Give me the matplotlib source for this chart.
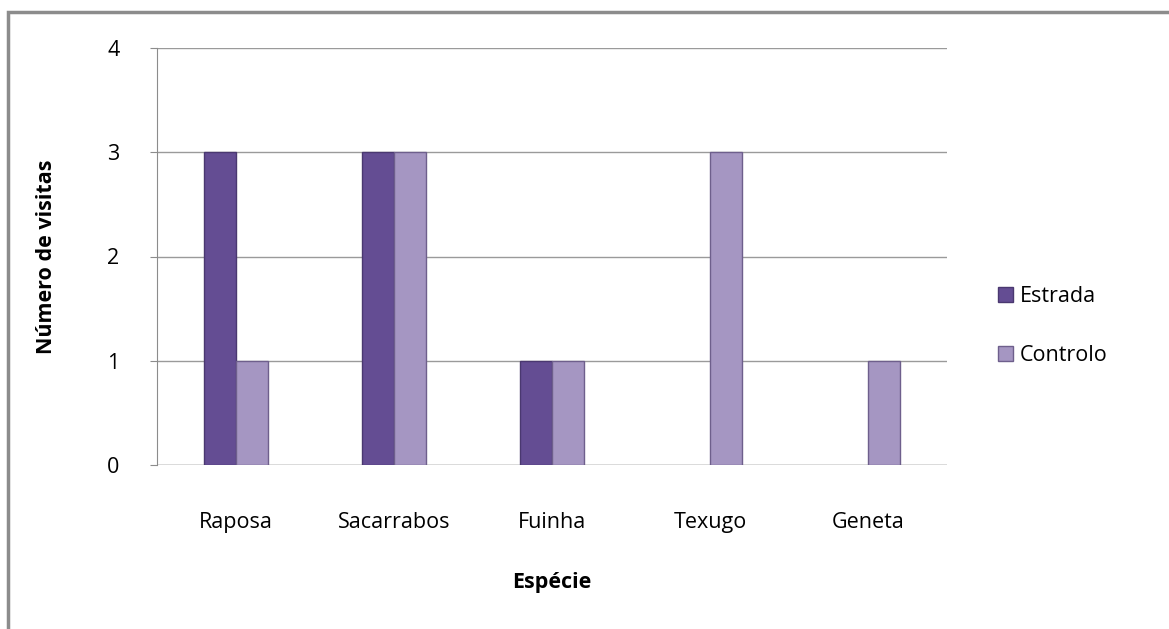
import matplotlib

matplotlib.use("Agg")

import matplotlib.pyplot as plt
import numpy as np
from matplotlib.patches import Rectangle

species = ["Raposa", "Sacarrabos", "Fuinha", "Texugo", "Geneta"]
estrada = [3, 3, 1, 0, 0]
controlo = [1, 3, 1, 3, 1]

plt.rcParams["font.family"] = ["Open Sans", "DejaVu Sans"]

fig = plt.figure(figsize=(11.69, 6.29), dpi=100)
ax = fig.add_axes([157 / 1169, 1 - 465 / 629, 790 / 1169, 417 / 629])

# outer chart border
fig.patches.append(Rectangle((8 / 1169, -0.1), 1.2, 1 - 12 / 629 + 0.1,
                             transform=fig.transFigure, fill=False,
                             edgecolor="#8c8c8c", linewidth=2.5))

x = np.arange(len(species))
w = 0.2
dark = "#644d93"
light = "#a596c2"


def draw(offset, values, color, edge, label):
    edges = [edge if v > 0 else "none" for v in values]
    ax.bar(x + offset, values, width=w, color=color, edgecolor=edges,
           linewidth=1, label=label, zorder=3)


draw(-w / 2, estrada, dark, "#4a3870", "Estrada")
draw(w / 2, controlo, light, "#6e5f8c", "Controlo")

ax.set_xlim(-0.5, len(species) - 0.5)
ax.set_ylim(0, 4)
ax.set_yticks([0, 1, 2, 3, 4])
ax.set_xticks(x)
ax.set_xticklabels(species)
ax.yaxis.grid(True, color="#9a9a9a", linewidth=1)
ax.set_axisbelow(True)
for side in ["top", "right", "bottom"]:
    ax.spines[side].set_visible(False)
ax.spines["left"].set_color("#8c8c8c")
ax.axhline(0, color="#9a9a9a", linewidth=1, zorder=2)
ax.tick_params(axis="y", length=5, color="#8c8c8c", labelsize=15.5, pad=22)
ax.tick_params(axis="x", length=0, labelsize=15.5, pad=34)
ax.set_xlabel("Espécie", fontsize=15.5, fontweight="bold", labelpad=28)
ax.set_ylabel("Número de visitas", fontsize=15.5, fontweight="bold", labelpad=36)

ax.legend(loc="center left", bbox_to_anchor=(1.04, 0.333), frameon=False,
          fontsize=15.5, handlelength=0.7, handleheight=0.7,
          labelspacing=1.75, handletextpad=0.3)

fig.savefig("out.png", dpi=100)
